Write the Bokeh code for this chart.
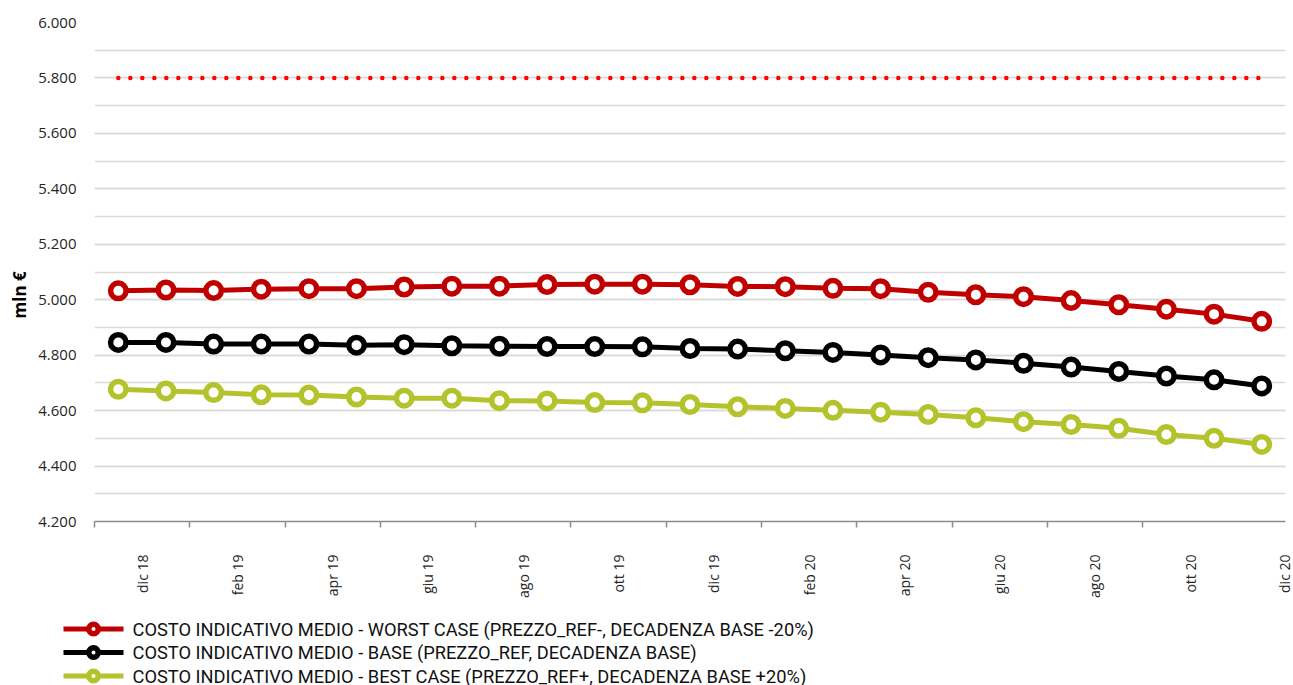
import math
from bokeh.plotting import figure
from bokeh.layouts import column
from bokeh.models import (Range1d, FixedTicker, SingleIntervalTicker, Title,
                          ColumnDataSource)
from bokeh.core.properties import value
from bokeh.embed import file_html
from bokeh.resources import INLINE

# ---------------- data ----------------
months = ["dic 18", "gen 19", "feb 19", "mar 19", "apr 19", "mag 19", "giu 19",
          "lug 19", "ago 19", "set 19", "ott 19", "nov 19", "dic 19", "gen 20",
          "feb 20", "mar 20", "apr 20", "mag 20", "giu 20", "lug 20", "ago 20",
          "set 20", "ott 20", "nov 20", "dic 20"]

worst = [5032, 5035, 5033, 5038, 5040, 5040, 5046, 5049, 5049, 5055, 5056, 5056,
         5054, 5048, 5047, 5041, 5040, 5027, 5018, 5011, 4997, 4982, 4966, 4948, 4922]
base = [4846, 4846, 4840, 4840, 4840, 4836, 4838, 4834, 4832, 4831, 4831, 4830,
        4824, 4822, 4816, 4810, 4801, 4791, 4783, 4771, 4757, 4741, 4725, 4711, 4689]
best = [4677, 4671, 4665, 4657, 4656, 4649, 4645, 4645, 4636, 4635, 4629, 4628,
        4622, 4614, 4608, 4601, 4594, 4586, 4574, 4560, 4550, 4536, 4514, 4500, 4478]
soglia = [5800, 5800, 5800, 5800, 5800, 5800, 5800, 5800, 5800, 5800, 5800, 5800,
          5800, 5800, 5800, 5800, 5800, 5800, 5800, 5800, 5800, 5800, 5800, 5800, 5800]

series_names = [
    "COSTO INDICATIVO MEDIO - WORST CASE (PREZZO_REF-, DECADENZA BASE -20%)",
    "COSTO INDICATIVO MEDIO - BASE (PREZZO_REF, DECADENZA BASE)",
    "COSTO INDICATIVO MEDIO - BEST CASE (PREZZO_REF+, DECADENZA BASE +20%)",
]
series_colors = ["#c00000", "#000000", "#b4c32c"]

y_ticks = [4200, 4400, 4600, 4800, 5000, 5200, 5400, 5600, 5800, 6000]
y_tick_labels = ["4.200", "4.400", "4.600", "4.800", "5.000", "5.200", "5.400",
                 "5.600", "5.800", "6.000"]
x_label_months = ["dic 18", "feb 19", "apr 19", "giu 19", "ago 19", "ott 19",
                  "dic 19", "feb 20", "apr 20", "giu 20", "ago 20", "ott 20", "dic 20"]
y_title = "mln €"

# ---------------- main chart ----------------
n = len(months)
xs = list(range(n))
W = 1293

p = figure(width=W, height=603,
           x_range=Range1d(-0.5, n - 0.5), y_range=Range1d(y_ticks[0], y_ticks[-1]),
           output_backend="svg", toolbar_location=None,
           min_border_left=90, min_border_right=8, min_border_top=22,
           min_border_bottom=82)
p.outline_line_color = None
p.background_fill_color = "white"

# y axis / grid
p.yaxis.ticker = SingleIntervalTicker(interval=200, num_minor_ticks=2)
p.yaxis.major_label_overrides = {t: l for t, l in zip(y_ticks, y_tick_labels)}
p.yaxis.axis_line_color = None
p.yaxis.major_tick_line_color = None
p.yaxis.minor_tick_line_color = None
p.yaxis.major_tick_out = 0
p.yaxis.major_label_standoff = 14
p.yaxis.major_label_text_font = "Open Sans"
p.yaxis.major_label_text_font_size = "15px"
p.yaxis.major_label_text_color = "#262626"
p.ygrid.grid_line_color = "#d9d9d9"
p.ygrid.grid_line_width = 1.5
p.ygrid.minor_grid_line_color = "#d9d9d9"
p.ygrid.minor_grid_line_width = 1.5
p.xgrid.grid_line_color = None

# x axis: labels between tick marks
label_pos = [i + 0.5 for i in range(0, n, 2)]
tick_pos = [i - 0.5 for i in range(0, n - 1, 2)]
p.xaxis.ticker = FixedTicker(ticks=label_pos, minor_ticks=tick_pos)
p.xaxis.major_label_overrides = {pos: lab for pos, lab in zip(label_pos, x_label_months)}
p.xaxis.major_label_orientation = math.pi / 2
p.xaxis.major_tick_line_color = None
p.xaxis.major_tick_out = 0
p.xaxis.minor_tick_line_color = "#8c8c8c"
p.xaxis.minor_tick_line_width = 1.5
p.xaxis.minor_tick_out = 6
p.xaxis.minor_tick_in = 0
p.xaxis.axis_line_color = "#8c8c8c"
p.xaxis.axis_line_width = 1.5
p.xaxis.major_label_standoff = 27
p.xaxis.major_label_text_font = "Open Sans"
p.xaxis.major_label_text_font_size = "14px"
p.xaxis.major_label_text_color = "#262626"

# threshold dotted line
p.line(xs, soglia, line_color="#ff0000", line_width=4.5, line_dash="0 12",
       line_cap="round")

# series
for vals, col in zip([worst, base, best], series_colors):
    p.line(xs, vals, line_color=col, line_width=5)
    p.scatter(xs, vals, marker="circle", size=15.5, fill_color="white",
              line_color=col, line_width=5.5)

# y axis title, level with the 5.000 label as in the reference
p.add_layout(Title(text=y_title, align="left", offset=203,
                   text_font="Open Sans", text_font_style="bold",
                   text_font_size="17px", text_color="#000000"), "left")

# ---------------- legend strip (screen-pixel coordinates) ----------------
LH = 82
lg = figure(width=W, height=LH, x_range=Range1d(0, W), y_range=Range1d(LH, 0),
            output_backend="svg", toolbar_location=None,
            x_axis_type=None, y_axis_type=None,
            min_border_left=0, min_border_right=0, min_border_top=0,
            min_border_bottom=0)
lg.outline_line_color = None
lg.xgrid.grid_line_color = None
lg.ygrid.grid_line_color = None

# keep the legend strip's frame independent of the chart's frame
if "frame_align" in p.properties():
    p.frame_align = False
    lg.frame_align = False
    glyph_left = 63
else:
    lg.x_range = Range1d(0, W - 98)
    glyph_left = 0

glyph_len, text_gap = 60, 9
row_top, row_pitch = 25.5, 23.5
rows_y = [row_top + i * row_pitch for i in range(len(series_names))]
leg = ColumnDataSource(data=dict(
    x0=[glyph_left] * len(series_names),
    x1=[glyph_left + glyph_len] * len(series_names),
    xm=[glyph_left + glyph_len / 2] * len(series_names),
    xt=[glyph_left + glyph_len + text_gap] * len(series_names),
    y=rows_y, color=series_colors, name=series_names))

lg.segment(x0="x0", y0="y", x1="x1", y1="y", source=leg, line_color="color",
           line_width=5)
lg.scatter(x="xm", y="y", source=leg, marker="circle", size=9.5,
           fill_color="white", line_color="color", line_width=5.5)
lg.text(x="xt", y="y", text="name", source=leg, text_font=value("Roboto"),
        text_font_size=value("18.3px"), text_baseline="middle",
        text_align="left", text_color="#111111")

page = column(p, lg, spacing=0)
open("out.html", "w").write(file_html(page, INLINE))
